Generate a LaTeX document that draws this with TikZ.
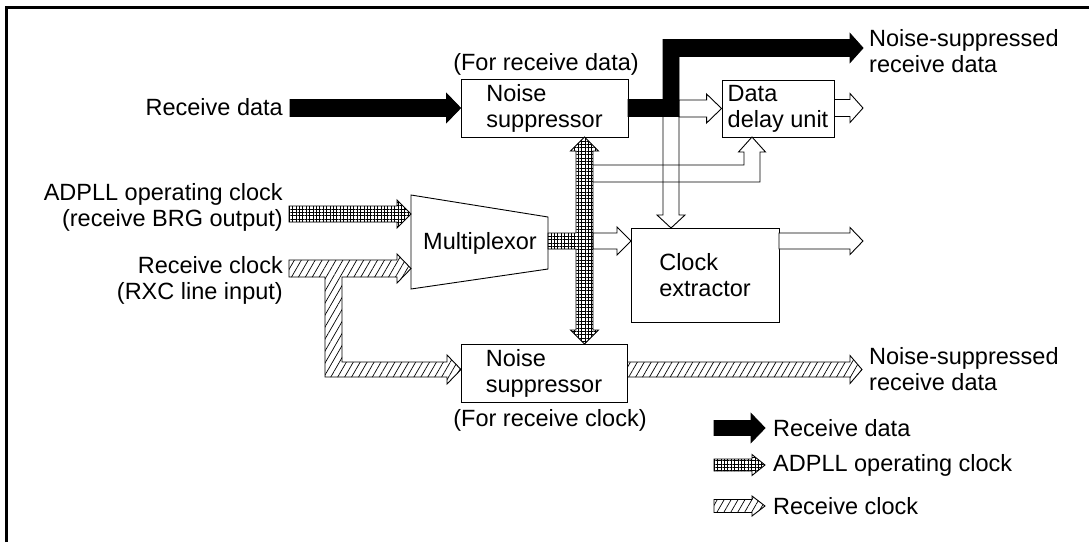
\documentclass[tikz,border=0pt]{standalone}
\usepackage{fontspec}
\setmainfont{Liberation Sans}
\usetikzlibrary{patterns.meta,calc}
\newcommand\lblfont{\fontsize{23.5}{26}\selectfont}
\tikzset{
 box/.style={draw, line width=0.9pt, fill=white, inner sep=0pt, align=left, font=\lblfont},
 lbl/.style={inner sep=0pt, font=\lblfont},
 blk/.style={fill=black, draw=black, line width=0.9pt, line join=miter},
 hollow/.style={draw=black, line width=0.9pt, line join=miter},
 gridfill/.style={draw=black, line width=0.9pt, line join=miter, pattern={Hatch[angle=0,distance=3.4pt,line width=0.45pt]}},
 hatchfill/.style={draw=black, line width=0.9pt, line join=miter, pattern={Lines[angle=60,distance=6pt,line width=0.7pt]}},
}
% #1 style, #2 start point, #3 tip point, #4 shaft half width, #5 head half width, #6 head length
\newcommand\HArr[6]{\path[#1] let \p1=(#2), \p2=(#3) in
 (\x1,\y2+#4) -- (\x2-#6,\y2+#4) -- (\x2-#6,\y2+#5) -- (\x2,\y2) -- (\x2-#6,\y2-#5) -- (\x2-#6,\y2-#4) -- (\x1,\y2-#4) -- cycle;}
\begin{document}
\begin{tikzpicture}[x=1pt,y=-1pt]
\useasboundingbox (0,0) rectangle (1089,542);
% frame
\draw[line width=3pt] (6.5,542) -- (6.5,7.5) -- (1089,7.5);

% blocks
\node[box, minimum width=167pt, minimum height=58pt] (ns1) at (544.5,108) {Noise\\suppressor};
\node[box, minimum width=112pt, minimum height=57pt] (ddu) at (778,108.5) {Data\\delay unit};
\node[box, minimum width=148pt, minimum height=94pt] (cex) at (705,275) {Clock\\extractor};
\node[box, minimum width=166pt, minimum height=58pt] (ns2) at (544,373) {Noise\\suppressor};
\draw[line width=0.9pt, fill=white] (411,195) -- (548,217) -- (548,269) -- (411,289) -- cycle;
\node[lbl] (mux) at (480,243) {Multiplexor};

% named end points
\coordinate (rdstart) at (290,108);
\coordinate (adstart) at (289,214);
\coordinate (muxin) at (411,214);
\coordinate (gridout) at (593,241);
\coordinate (cexin) at (631,241);
\coordinate (cexout) at (779,241);
\coordinate (cexend) at (863,241);
\coordinate (dduend) at (863,108);
\coordinate (brk) at (679,108);
\coordinate (ns2end) at (862,369.5);

% receive data (black)
\HArr{blk}{rdstart}{ns1.west}{8.5}{14.5}{14}
\path[blk] (628,99.5) -- (663,99.5) -- (663,39.5) -- (850,39.5) -- (850,33.5) -- (863,48) -- (850,62.5) -- (850,56.5) -- (679,56.5) -- (679,116.5) -- (628,116.5) -- cycle;

% hollow data arrows
\HArr{hollow}{brk}{ddu.west}{8.5}{14.5}{15}
\HArr{hollow,fill=white}{ddu.east}{dduend}{8.5}{14.5}{13}
\draw[hollow] (663,116.5) -- (663,215) -- (657,215) -- (671,228) -- (685,215) -- (679,215) -- (679,116.5);
\draw[hollow] (593,165) -- (744,165) -- (744,152) -- (738.5,152) -- (752,137) -- (765.5,152) -- (760,152) -- (760,182) -- (593,182);
\HArr{hollow,fill=white}{gridout}{cexin}{8}{14}{14}
\HArr{hollow,fill=white}{cexout}{cexend}{8}{13.5}{13}

% ADPLL operating clock (grid)
\HArr{gridfill}{adstart}{muxin}{8}{14}{14}
\path[gridfill] (584.5,137) -- (598.5,151) -- (593,151) -- (593,330) -- (598.5,330) -- (584.5,344) -- (570.5,330) -- (576,330) -- (576,249) -- (548,249) -- (548,233) -- (576,233) -- (576,151) -- (570.5,151) -- cycle;

% receive clock (hatched)
\path[hatchfill] (289,260) -- (397,260) -- (397,254) -- (411,268.5) -- (397,283) -- (397,277) -- (342,277) -- (342,362) -- (447,362) -- (447,355) -- (461,369.5) -- (447,384) -- (447,377) -- (325,377) -- (325,277) -- (289,277) -- cycle;
\HArr{hatchfill}{ns2.east}{ns2end}{7.5}{14}{12}

% labels
\node[lbl, anchor=east] (rdlbl) at (283,107) {Receive data};
\node[lbl, anchor=east, align=right] (adlbl) at (283,207.5) {ADPLL operating clock\\(receive BRG output)};
\node[lbl, anchor=east, align=right] (rclbl) at (283,280.5) {Receive clock\\(RXC line input)};
\node[lbl] (fordata) at (546,64) {(For receive data)};
\node[lbl] (forclk) at (550,420) {(For receive clock)};
\node[lbl, anchor=west, align=left] (out1) at (869,51) {Noise-suppressed\\receive data};
\node[lbl, anchor=west, align=left] (out2) at (869,369) {Noise-suppressed\\receive data};

% legend
\coordinate (lgs1) at (714,428); \coordinate (lgt1) at (765,428);
\coordinate (lgs2) at (714,465); \coordinate (lgt2) at (765,465);
\coordinate (lgs3) at (714,506); \coordinate (lgt3) at (765,506);
\HArr{blk}{lgs1}{lgt1}{7.5}{14.5}{14}
\HArr{gridfill}{lgs2}{lgt2}{6}{10.5}{13}
\HArr{hatchfill}{lgs3}{lgt3}{6.5}{10}{13}
\node[lbl, anchor=west] (lg1) at (773,428) {Receive data};
\node[lbl, anchor=west] (lg2) at (773,465) {ADPLL operating clock};
\node[lbl, anchor=west] (lg3) at (773,506) {Receive clock};
\end{tikzpicture}
\end{document}
